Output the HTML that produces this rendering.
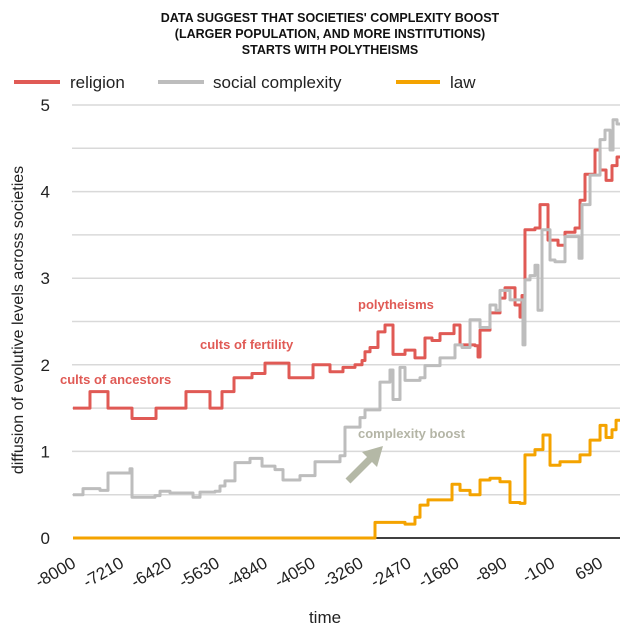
<!DOCTYPE html>
<html><head><meta charset="utf-8"><style>
body{margin:0;background:#fff;}
svg{display:block;font-family:"Liberation Sans",sans-serif;}
</style></head><body>
<svg id="chart" width="632" height="632" viewBox="0 0 632 632">
<g font-size="12.5" font-weight="bold" text-anchor="middle" fill="#111">
<text x="330" y="22">DATA SUGGEST THAT SOCIETIES' COMPLEXITY BOOST</text>
<text x="330" y="38">(LARGER POPULATION, AND MORE INSTITUTIONS)</text>
<text x="330" y="54">STARTS WITH POLYTHEISMS</text>
</g>
<g font-size="17" fill="#222">
<g><line x1="14" y1="82" x2="60" y2="82" stroke="#e05a55" stroke-width="4"/><text x="70" y="88">religion</text></g>
<g><line x1="158" y1="82" x2="204" y2="82" stroke="#bdbdbd" stroke-width="4"/><text x="213" y="88">social complexity</text></g>
<g><line x1="396" y1="82" x2="440" y2="82" stroke="#f4a300" stroke-width="4"/><text x="450" y="88">law</text></g>
</g>
<g id="grid"></g>
<g id="yticks" font-size="17" fill="#222" text-anchor="end"></g>
<g id="xticks" font-size="17" fill="#222" text-anchor="end"></g>
<g id="series"></g>
<text transform="translate(23,320) rotate(-90)" text-anchor="middle" font-size="16" fill="#222">diffusion of evolutive levels across societies</text>
<text x="325" y="623" text-anchor="middle" font-size="17" fill="#222">time</text>
<g font-size="13" font-weight="bold">
<text x="60" y="384" fill="#e05a55">cults of ancestors</text>
<text x="200" y="349" fill="#e05a55">cults of fertility</text>
<text x="358" y="309" fill="#e05a55">polytheisms</text>
<text x="358" y="438" fill="#b4b5a6">complexity boost</text>
<g>
<line x1="348" y1="481" x2="372" y2="457" stroke="#b4b8a6" stroke-width="7"/>
<polygon points="383,446 362,452 377,467" fill="#b4b8a6"/>
</g>
</g>
</svg>
<script>
const yTicks=[0,1,2,3,4,5];
const xTickLabels=[-8000,-7210,-6420,-5630,-4840,-4050,-3260,-2470,-1680,-890,-100,690];
const religionYears=[-8000,-7720,-7423,-7027,-6631,-6137,-5741,-5543,-5345,-5048,-4834,-4438,-4042,-3762,-3548,-3350,-3234,-3185,-3102,-2971,-2855,-2723,-2525,-2361,-2196,-2080,-1948,-1717,-1618,-1371,-1321,-1288,-1124,-959,-876,-711,-629,-596,-547,-382,-299,-167,-2,113,278,361,443,608,691,790,888,971];
const religionValues=[1.5,1.69,1.5,1.38,1.5,1.69,1.5,1.69,1.85,1.9,2.02,1.85,2.0,1.92,1.97,2.0,2.05,2.15,2.2,2.38,2.46,2.12,2.17,2.08,2.31,2.28,2.36,2.46,2.23,2.22,2.09,2.4,2.6,2.77,2.89,2.69,2.55,2.8,3.56,3.58,3.85,3.44,3.38,3.53,3.58,3.9,4.2,4.48,4.25,4.13,4.3,4.4];
const socialYears=[-8000,-7835,-7555,-7423,-7060,-7027,-6648,-6565,-6400,-6021,-5906,-5658,-5576,-5494,-5329,-5081,-4883,-4669,-4537,-4257,-4009,-3597,-3515,-3267,-3185,-2938,-2773,-2723,-2608,-2525,-2278,-2196,-1948,-1701,-1585,-1453,-1288,-1124,-1025,-959,-794,-580,-547,-464,-382,-332,-266,-134,-52,113,278,344,394,526,691,773,856,905,971];
const socialValues=[0.5,0.57,0.55,0.75,0.8,0.47,0.49,0.54,0.52,0.47,0.53,0.54,0.6,0.66,0.87,0.92,0.83,0.79,0.67,0.72,0.88,0.95,1.28,1.39,1.48,1.8,1.94,1.6,1.97,1.82,1.85,1.99,2.08,2.23,2.2,2.52,2.43,2.69,2.63,2.86,2.75,2.23,2.98,3.03,3.15,2.63,3.56,3.21,3.19,3.48,3.48,3.23,3.85,4.19,4.6,4.71,4.48,4.83,4.78];
const lawYears=[-8000,-3020,-2773,-2525,-2361,-2278,-2146,-1948,-1750,-1618,-1453,-1288,-1124,-959,-794,-629,-547,-382,-250,-134,31,196,361,526,691,790,888,955];
const lawValues=[0,0.18,0.18,0.16,0.24,0.38,0.44,0.44,0.62,0.55,0.5,0.67,0.69,0.65,0.41,0.4,0.96,1.02,1.19,0.84,0.88,0.88,0.96,1.13,1.3,1.16,1.25,1.36];

const X0=73,X1=620,Y0=538,Y1=105;
const xs=y=>X0+(y+8000)*(X1-X0)/9020;
const ys=v=>Y0-v*(Y0-Y1)/5;
const NS='http://www.w3.org/2000/svg';
const grid=document.getElementById('grid');
for(let v=0.5;v<=5.001;v+=0.5){
  const l=document.createElementNS(NS,'line');
  l.setAttribute('x1',X0-1);l.setAttribute('x2',X1);
  l.setAttribute('y1',ys(v));l.setAttribute('y2',ys(v));
  l.setAttribute('stroke','#d9d9d9');l.setAttribute('stroke-width','1.5');
  
  
  grid.appendChild(l);
}
const yt=document.getElementById('yticks');
yTicks.forEach(v=>{
  const t=document.createElementNS(NS,'text');
  t.setAttribute('x',50);t.setAttribute('y',ys(v)+6);t.textContent=v;
  
  
  yt.appendChild(t);
});
const xt=document.getElementById('xticks');
xTickLabels.forEach(v=>{
  const t=document.createElementNS(NS,'text');
  const x=xs(v)-2,y=556;
  t.setAttribute('transform','translate('+x+','+y+') rotate(-30)');
  t.setAttribute('x',0);t.setAttribute('y',12);t.textContent=v;
  
  
  xt.appendChild(t);
});
const ser=document.getElementById('series');
function stepPath(yrs,vals,color,name){
  let d='M'+xs(yrs[0])+','+ys(vals[0]);
  for(let i=1;i<yrs.length;i++){d+=' H'+xs(yrs[i])+' V'+ys(vals[i]);}
  d+=' H'+X1;
  const p=document.createElementNS(NS,'path');
  p.setAttribute('d',d);p.setAttribute('fill','none');p.setAttribute('stroke',color);
  p.setAttribute('stroke-width','3');p.setAttribute('stroke-linejoin','round');
  
  
  ser.appendChild(p);
}
const zl=document.createElementNS(NS,'line');
zl.setAttribute('x1',X0);zl.setAttribute('x2',X1);zl.setAttribute('y1',Y0);zl.setAttribute('y2',Y0);
zl.setAttribute('stroke','#000');zl.setAttribute('stroke-width','1.5');


ser.appendChild(zl);
stepPath(religionYears,religionValues,'#e05a55','religion-line');
stepPath(socialYears,socialValues,'#bdbdbd','social-complexity-line');
stepPath(lawYears,lawValues,'#f4a300','law-line');
</script>
</body></html>
